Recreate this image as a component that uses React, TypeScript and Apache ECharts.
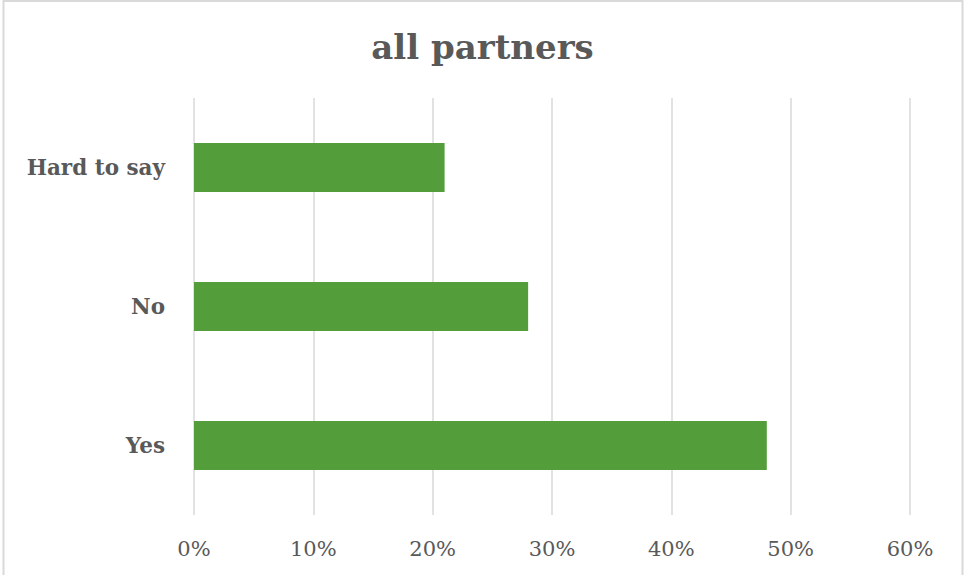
import React, { useEffect, useRef } from "react";
import * as echarts from "echarts";

const categories = ["Yes", "No", "Hard to say"];
const values = [48, 28, 21];
const xTicks = [0, 10, 20, 30, 40, 50, 60];

const FONT = "'DejaVu Serif', 'Liberation Serif', serif";

export default function App() {
  const ref = useRef<HTMLDivElement>(null);
  useEffect(() => {
    const chart = echarts.init(ref.current!, null, { renderer: "svg" });
    chart.setOption({
      animation: false,
      backgroundColor: "#ffffff",
      title: {
        text: "all partners",
        left: "center",
        top: 25,
        textStyle: { fontFamily: FONT, fontSize: 34, fontWeight: "bold", color: "#595959" },
      },
      graphic: [
        {
          type: "rect",
          shape: { x: 3.5, y: 1, width: 959, height: 590 },
          style: { fill: "none", stroke: "#d9d9d9", lineWidth: 2 },
          silent: true,
        },
      ],
      grid: { left: 194, right: 55, top: 98, bottom: 60, containLabel: false },
      xAxis: {
        type: "value",
        min: xTicks[0],
        max: xTicks[xTicks.length - 1],
        interval: 10,
        axisLine: { show: false },
        axisTick: { show: false },
        splitLine: { show: true, lineStyle: { color: "#d9d9d9", width: 1.5 } },
        axisLabel: {
          formatter: (v: number) => v + "%",
          fontFamily: FONT,
          fontSize: 21,
          color: "#595959",
          margin: 23,
        },
      },
      yAxis: {
        type: "category",
        data: categories,
        axisLine: { show: false },
        axisTick: { show: false },
        axisLabel: {
          fontFamily: FONT,
          fontSize: 21.5,
          fontWeight: "bold",
          color: "#595959",
          margin: 29,
        },
      },
      series: [
        {
          type: "bar",
          data: values,
          barWidth: 49,
          itemStyle: { color: "#539e3a" },
        },
      ],
    });
    return () => chart.dispose();
  }, []);
  return (
    <div
      ref={ref}
      style={{ position: "fixed", left: 0, top: 0, width: 965, height: 575 }}
    />
  );
}
